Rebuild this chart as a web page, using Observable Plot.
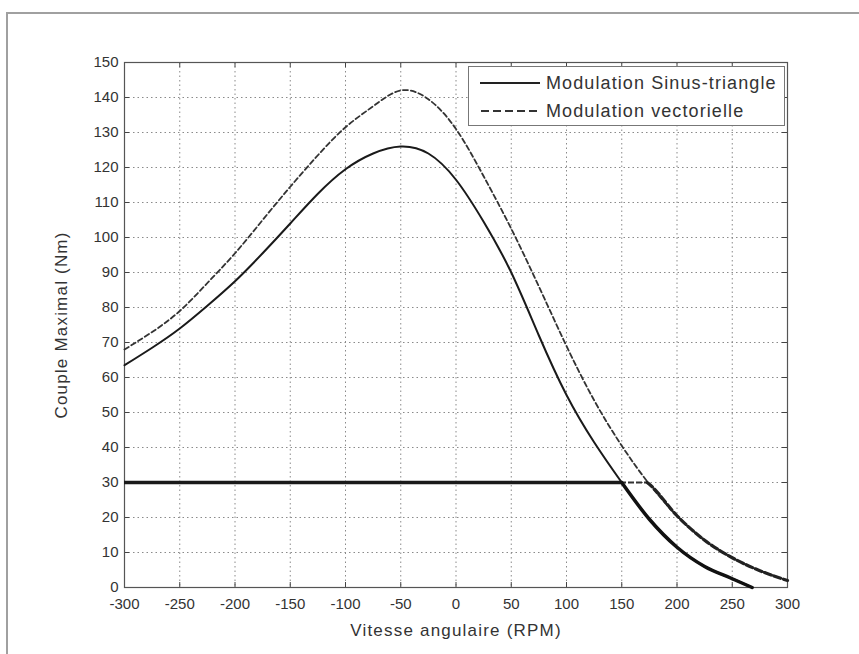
<!DOCTYPE html>
<html><head><meta charset="utf-8">
<script src="https://cdn.jsdelivr.net/npm/d3@7"></script>
<script src="https://cdn.jsdelivr.net/npm/@observablehq/plot@0.6"></script>
<style>
body{margin:0;background:#fff;font-family:"Liberation Sans",Arial,sans-serif;}
#wrap{position:relative;width:859px;height:654px;overflow:hidden;background:#fff;}
#frame{position:absolute;left:6px;top:12px;width:900px;height:700px;border-left:2px solid #a0a0a0;border-top:2px solid #a0a0a0;}
#chart{position:absolute;left:0;top:0;}
#legend{position:absolute;left:468px;top:66px;width:317px;height:60px;border:1px solid #777;background:#fff;box-sizing:border-box;}
.row{position:absolute;left:11px;height:20px;display:flex;align-items:center;color:#333;font-size:18px;letter-spacing:1.1px;}
.row svg{margin-right:6px;}
[aria-label="x-axis label"] text,[aria-label="y-axis label"] text{letter-spacing:1.2px;font-size:17px;}
</style></head>
<body><div id="wrap"><div id="frame"></div><div id="chart"></div>
<div id="legend">
 <div class="row" style="top:6px"><svg width="60" height="10"><line x1="0" x2="60" y1="5" y2="5" stroke="#222" stroke-width="2"/></svg><span>Modulation Sinus-triangle</span></div>
 <div class="row" style="top:34px"><svg width="60" height="10"><line x1="1" x2="60" y1="5" y2="5" stroke="#333" stroke-width="2" stroke-dasharray="8,4"/></svg><span>Modulation vectorielle</span></div>
</div></div>
<script>
// Data
const xTicks = [-300,-250,-200,-150,-100,-50,0,50,100,150,200,250,300];
const yTicks = [0,10,20,30,40,50,60,70,80,90,100,110,120,130,140,150];

const rpmSinus = [-300,-275,-250,-225,-200,-175,-150,-125,-100,-75,-50,-25,0,25,50,75,100,125,150,175,200,225,250,268];
const coupleSinus = [63.5,68.5,74,80.5,87.5,95.5,104,112.5,119.5,124,126,124,116.5,104.5,90,72,55,41.5,30,19.5,11.5,6,2.5,0];

const rpmVect = [-300,-275,-250,-225,-200,-175,-150,-125,-100,-75,-50,-25,0,25,50,75,100,125,150,175,200,225,250,275,300];
const coupleVect = [68,73,79,87,95.5,105,114.5,123.5,131.5,137.5,142,139.5,131,117.5,102.5,86,69,53.5,40.5,29.5,20.5,13.5,8.5,4.8,2];

// Load torque level and its intersections with each curve
const coupleCharge = 30;
const croisementSinus = 150;
const croisementVect = 173;

const sinus = rpmSinus.map((x,i)=>({x, y: coupleSinus[i]}));
const vect = rpmVect.map((x,i)=>({x, y: coupleVect[i]}));
const tailSinus = [{x: croisementSinus, y: coupleCharge}, ...sinus.filter(d=>d.x>croisementSinus)];
const tailVect = [{x: croisementVect, y: coupleCharge}, ...vect.filter(d=>d.x>croisementVect)];

const W = 859, H = 654, mL = 124, mR = 72, mT = 62, mB = 67;
const pw = W - mL - mR, ph = H - mT - mB, tk = 5;

const chart = Plot.plot({
  width: W, height: H,
  marginLeft: mL, marginRight: mR, marginTop: mT, marginBottom: mB,
  style: {fontFamily: "'Liberation Sans', Arial, sans-serif", fontSize: "15px", color: "#333", background: "transparent"},
  x: {domain: [-300, 300]},
  y: {domain: [0, 150]},
  marks: [
    Plot.gridX(xTicks, {stroke: "#8a8a8a", strokeOpacity: 1, strokeDasharray: "1.5,3"}),
    Plot.gridY(yTicks, {stroke: "#8a8a8a", strokeOpacity: 1, strokeDasharray: "1.5,3"}),
    Plot.axisX(xTicks, {anchor: "bottom", tickSize: 0, tickPadding: 11, tickFormat: d => String(d),
      label: "Vitesse angulaire (RPM)", labelAnchor: "center", labelArrow: "none", labelOffset: 48, fontSize: 15}),
    Plot.axisY(yTicks, {anchor: "left", tickSize: 0, tickPadding: 6, tickFormat: d => String(d),
      label: "Couple Maximal (Nm)", labelAnchor: "center", labelArrow: "none", labelOffset: 70, fontSize: 15}),
    Plot.tickX(xTicks, {x: d => d, stroke: "#444", insetTop: ph - tk}),
    Plot.tickX(xTicks, {x: d => d, stroke: "#444", insetBottom: ph - tk}),
    Plot.tickY(yTicks, {y: d => d, stroke: "#444", insetRight: pw - tk}),
    Plot.tickY(yTicks, {y: d => d, stroke: "#444", insetLeft: pw - tk}),
    Plot.frame({stroke: "#555", strokeWidth: 1.2}),
    Plot.line(vect, {x: "x", y: "y", stroke: "#333", strokeWidth: 1.8, strokeDasharray: "5,3", curve: "natural"}),
    Plot.line(sinus, {x: "x", y: "y", stroke: "#1a1a1a", strokeWidth: 2, curve: "natural"}),
    Plot.ruleY([coupleCharge], {x1: -300, x2: croisementVect, stroke: "#333", strokeWidth: 2, strokeDasharray: "6,2"}),
    Plot.ruleY([coupleCharge], {x1: -300, x2: croisementSinus, stroke: "#1a1a1a", strokeWidth: 3.5}),
    Plot.line(tailVect, {x: "x", y: "y", stroke: "#222", strokeWidth: 3.2, strokeDasharray: "7,3", curve: "monotone-x"}),
    Plot.line(tailSinus, {x: "x", y: "y", stroke: "#111", strokeWidth: 3.5, curve: "monotone-x"})
  ]
});
document.getElementById("chart").appendChild(chart);
</script>
</body></html>
